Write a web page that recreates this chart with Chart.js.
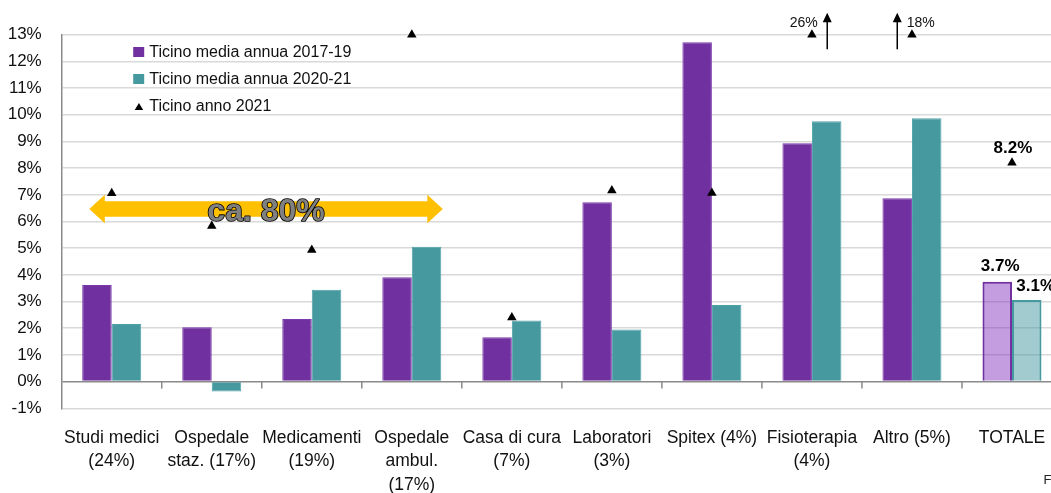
<!DOCTYPE html>
<html><head><meta charset="utf-8">
<script src="https://cdn.jsdelivr.net/npm/chart.js@4/dist/chart.umd.min.js"></script>
<style>html,body{margin:0;padding:0;overflow:hidden;background:#fff;width:1051px;height:493px}canvas{display:block}</style>
</head><body><canvas id="c" width="1062" height="493"></canvas>
<script>
const categories = [
  ['Studi medici','(24%)'], ['Ospedale','staz. (17%)'], ['Medicamenti','(19%)'],
  ['Ospedale','ambul.','(17%)'], ['Casa di cura','(7%)'], ['Laboratori','(3%)'],
  ['Spitex (4%)'], ['Fisioterapia','(4%)'], ['Altro (5%)'], ['TOTALE']
];
const seriesNames = ['Ticino media annua 2017-19', 'Ticino media annua 2020-21', 'Ticino anno 2021'];
const media1719 = [3.62, 2.04, 2.35, 3.91, 1.66, 6.72, 12.72, 8.93, 6.87, 3.74];
const media2021 = [2.16, -0.37, 3.44, 5.05, 2.29, 1.95, 2.87, 9.76, 9.87, 3.06];
const anno2021  = [7.06, 5.83, 4.93, 13.0, 2.40, 7.16, 7.07, 26, 18, 8.2];
const yMin = -1, yMax = 13, yStep = 1;
const arrowLabel = 'ca. 80%';
const sourceText = 'Fonte: UST';

const FONT = 'Liberation Sans, Arial, sans-serif';
const PURPLE = '#7030A0', TEAL = '#4799A0';
const last = categories.length - 1;
const purpleFill = media1719.map((v,i)=> i===last ? 'rgba(124,35,186,0.45)' : PURPLE);
const tealFill = media2021.map((v,i)=> i===last ? 'rgba(69,151,159,0.5)' : TEAL);
const purpleBorder = media1719.map((v,i)=> i===last ? PURPLE : '#7a3aab');
const tealBorder = media2021.map((v,i)=> i===last ? TEAL : '#50a2a8');

const annot = {
  id: 'annot',
  afterDatasetsDraw(chart) {
    const ctx = chart.ctx, x = chart.scales.x, y = chart.scales.y, ca = chart.chartArea;
    ctx.save();
    // category tick marks on the zero line
    ctx.strokeStyle = '#8a8a8a'; ctx.lineWidth = 1.5;
    const y0 = y.getPixelForValue(0);
    for (let i = 1; i <= categories.length; i++) {
      const px = x.getPixelForValue(i - 0.5);
      ctx.beginPath(); ctx.moveTo(px, y0); ctx.lineTo(px, y0 + 7); ctx.stroke();
    }
    // legend
    ctx.font = '16px ' + FONT; ctx.fillStyle = '#111'; ctx.textBaseline = 'alphabetic'; ctx.textAlign = 'left';
    const lx = ca.left + 71.5, ly = [57, 84, 111];
    ctx.fillStyle = PURPLE; ctx.fillRect(lx, ly[0]-10, 11, 10);
    ctx.fillStyle = TEAL; ctx.fillRect(lx, ly[1]-10, 11, 10);
    ctx.fillStyle = '#000'; ctx.beginPath();
    ctx.moveTo(lx + 1.5, ly[2]-1); ctx.lineTo(lx + 10, ly[2]-1); ctx.lineTo(lx + 5.75, ly[2]-8); ctx.closePath(); ctx.fill();
    ctx.fillStyle = '#111';
    seriesNames.forEach((n,i)=> ctx.fillText(n, lx + 16, ly[i]));
    // yellow double arrow
    const ay = y.getPixelForValue(6.47);
    const ax0 = x.getPixelForValue(-0.224), ax1 = x.getPixelForValue(3.31);
    const hl = 15.5, hh = 14.3, bh = 7.8;
    ctx.fillStyle = '#FFC000'; ctx.beginPath();
    ctx.moveTo(ax0, ay); ctx.lineTo(ax0 + hl, ay - hh); ctx.lineTo(ax0 + hl, ay - bh);
    ctx.lineTo(ax1 - hl, ay - bh); ctx.lineTo(ax1 - hl, ay - hh); ctx.lineTo(ax1, ay);
    ctx.lineTo(ax1 - hl, ay + hh); ctx.lineTo(ax1 - hl, ay + bh); ctx.lineTo(ax0 + hl, ay + bh);
    ctx.lineTo(ax0 + hl, ay + hh); ctx.closePath(); ctx.fill();
    ctx.font = 'bold 32px ' + FONT; ctx.textAlign = 'center'; ctx.textBaseline = 'alphabetic';
    const tx = x.getPixelForValue(1.543), ty = ay + 12.5;
    ctx.lineWidth = 1.6; ctx.strokeStyle = '#000'; ctx.lineJoin = 'round';
    ctx.strokeText(arrowLabel, tx, ty);
    ctx.fillStyle = '#808080'; ctx.fillText(arrowLabel, tx, ty);
    // off-scale arrows
    const offs = {7: 15.3, 8: -14.7};
    ctx.font = '14px ' + FONT; ctx.textBaseline = 'alphabetic';
    anno2021.forEach((v,i)=>{
      if (v <= yMax || offs[i] === undefined) return;
      const px = x.getPixelForValue(i) + offs[i];
      const top = ca.top - 22, bot = ca.top + 14.6;
      ctx.strokeStyle = '#000'; ctx.lineWidth = 1.5;
      ctx.beginPath(); ctx.moveTo(px, bot); ctx.lineTo(px, top + 8); ctx.stroke();
      ctx.fillStyle = '#000'; ctx.beginPath();
      ctx.moveTo(px, top); ctx.lineTo(px - 4.5, top + 9.5); ctx.lineTo(px + 4.5, top + 9.5); ctx.closePath(); ctx.fill();
      ctx.fillStyle = '#111';
      if (offs[i] > 0) { ctx.textAlign = 'right'; ctx.fillText(v + '%', px - 9.5, ca.top - 8); }
      else { ctx.textAlign = 'left'; ctx.fillText(v + '%', px + 9.5, ca.top - 8); }
    });
    // TOTALE labels (dataset 0 = triangles, 1 = 2017-19, 2 = 2020-21)
    ctx.font = 'bold 17px ' + FONT; ctx.textAlign = 'center'; ctx.fillStyle = '#000';
    const mt = chart.getDatasetMeta(0).data[last], mp = chart.getDatasetMeta(1).data[last], mg = chart.getDatasetMeta(2).data[last];
    ctx.fillText(media1719[last].toFixed(1) + '%', mp.x + 3, mp.y - 11);
    ctx.fillText(media2021[last].toFixed(1) + '%', mg.x + 9, mg.y - 9);
    ctx.fillText(anno2021[last].toFixed(1) + '%', mt.x + 1, mt.y - 9.5);
    // source
    ctx.font = '13px ' + FONT; ctx.textAlign = 'left'; ctx.fillStyle = '#222';
    ctx.fillText(sourceText, 1043.5, 484);
    ctx.restore();
  }
};

new Chart(document.getElementById('c'), {
  data: {
    labels: categories,
    datasets: [
      { type: 'line', label: seriesNames[2], data: anno2021.map(v => Math.min(v, yMax)), showLine: false,
        pointStyle: 'triangle', pointRadius: 5.5, pointBackgroundColor: '#000', pointBorderColor: '#000',
        pointBorderWidth: 0, clip: false, order: 0 },
      { type: 'bar', label: seriesNames[0], data: media1719, backgroundColor: purpleFill, borderColor: purpleBorder,
        borderWidth: media1719.map((v,i)=> i===last ? 2 : 1), categoryPercentage: 0.59, barPercentage: 1.0, order: 1 },
      { type: 'bar', label: seriesNames[1], data: media2021, backgroundColor: tealFill, borderColor: tealBorder,
        borderWidth: media2021.map((v,i)=> i===last ? 2 : 1), categoryPercentage: 0.59, barPercentage: 1.0, order: 2 }
    ]
  },
  options: {
    responsive: false, animation: false, devicePixelRatio: 1,
    layout: { autoPadding: false, padding: { top: 34.7, left: 0, right: 0, bottom: 0 } },
    plugins: { legend: { display: false }, tooltip: { enabled: false } },
    scales: {
      x: {
        grid: { display: false, drawTicks: false }, border: { display: false },
        ticks: { font: { size: 17.5, family: FONT, lineHeight: 1.34 }, color: '#111', padding: 18, maxRotation: 0, autoSkip: false },
        afterFit: s => { s.height = 84.7; s.paddingLeft = 0; s.paddingRight = 0; }
      },
      y: {
        min: yMin, max: yMax,
        ticks: { stepSize: yStep, callback: v => v + '%', font: { size: 17, family: FONT }, color: '#111', padding: 20 },
        grid: { color: c => c.tick && c.tick.value === 0 ? '#8a8a8a' : '#d9d9d9', lineWidth: 1.5, drawTicks: false },
        border: { color: '#8a8a8a', width: 1.5 },
        afterFit: s => { s.width = 61.7; s.paddingTop = 0; s.paddingBottom = 0; }
      }
    }
  },
  plugins: [annot]
});
</script>
</body></html>
